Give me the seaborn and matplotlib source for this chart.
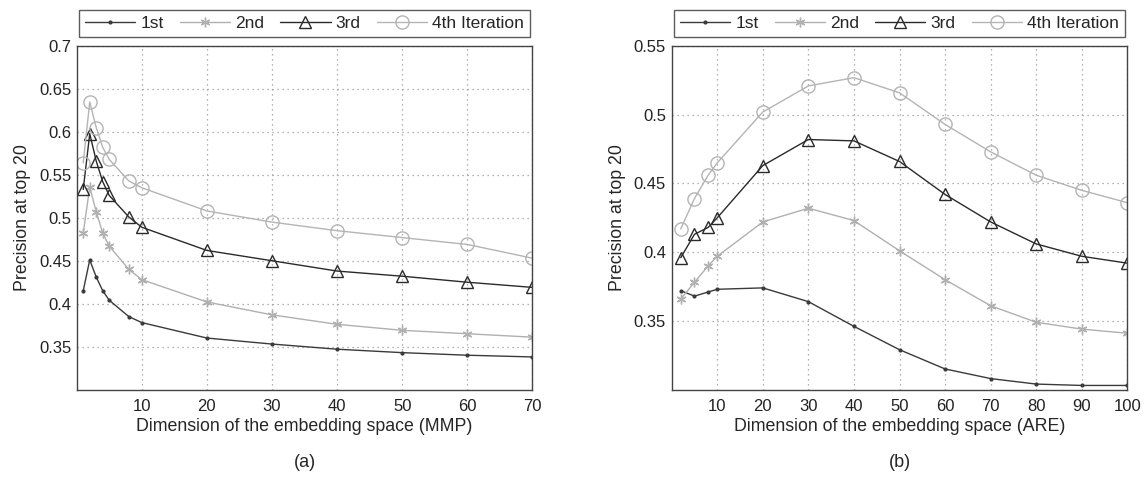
import numpy as np
import pandas as pd
import matplotlib
matplotlib.use("Agg")
import matplotlib.pyplot as plt
import seaborn as sns

# ---- data ----
dims_mmp = [1, 2, 3, 4, 5, 8, 10, 20, 30, 40, 50, 60, 70]
mmp_1st = [0.415, 0.451, 0.431, 0.415, 0.404, 0.385, 0.378, 0.360, 0.353, 0.347, 0.343, 0.340, 0.338]
mmp_2nd = [0.482, 0.536, 0.507, 0.482, 0.467, 0.440, 0.428, 0.402, 0.387, 0.376, 0.369, 0.365, 0.361]
mmp_3rd = [0.533, 0.598, 0.566, 0.542, 0.526, 0.501, 0.489, 0.462, 0.450, 0.438, 0.432, 0.425, 0.419]
mmp_4th = [0.564, 0.635, 0.605, 0.582, 0.568, 0.543, 0.535, 0.508, 0.495, 0.485, 0.477, 0.469, 0.453]

dims_are = [2, 5, 8, 10, 20, 30, 40, 50, 60, 70, 80, 90, 100]
are_1st = [0.372, 0.368, 0.371, 0.373, 0.374, 0.364, 0.346, 0.329, 0.315, 0.308, 0.304, 0.303, 0.303]
are_2nd = [0.366, 0.378, 0.390, 0.397, 0.422, 0.432, 0.423, 0.401, 0.380, 0.361, 0.349, 0.344, 0.341]
are_3rd = [0.396, 0.413, 0.418, 0.425, 0.463, 0.482, 0.481, 0.466, 0.442, 0.422, 0.406, 0.397, 0.392]
are_4th = [0.417, 0.439, 0.456, 0.465, 0.502, 0.521, 0.527, 0.516, 0.493, 0.473, 0.456, 0.445, 0.436]

series_names = ["1st", "2nd", "3rd", "4th Iteration"]
styles = [
    dict(color="#3a3a3a", marker=".", markersize=4, mfc="#3a3a3a", mec="#3a3a3a"),
    dict(color="#b0b0b0", marker=(6, 2, 0), markersize=7, mfc="#b0b0b0", mec="#b0b0b0"),
    dict(color="#2a2a2a", marker="^", markersize=8.5, mfc="none", mec="#2a2a2a"),
    dict(color="#b4b4b4", marker="o", markersize=9.5, mfc="none", mec="#b4b4b4"),
]

sns.set_style("white")
plt.rcParams["font.family"] = ["Liberation Sans", "DejaVu Sans"]

fig = plt.figure(figsize=(11.45, 4.78), dpi=100)
ax1 = fig.add_axes([0.067, 0.185, 0.398, 0.7186])
ax2 = fig.add_axes([0.5866, 0.185, 0.398, 0.7186])


def draw_panel(ax, dims, series, xlim, ylim, xticks, yticks, xlabel, tag):
    for name, vals, st in zip(series_names, series, styles):
        df = pd.DataFrame({"dim": dims, "prec": vals})
        sns.lineplot(data=df, x="dim", y="prec", ax=ax, label=name,
                     color=st["color"], marker=st["marker"], markersize=st["markersize"],
                     markerfacecolor=st["mfc"], markeredgecolor=st["mec"],
                     markeredgewidth=1.0, linewidth=1.0)
    ax.set_xlim(*xlim)
    ax.set_ylim(*ylim)
    ax.set_xticks(xticks)
    ax.set_yticks(yticks)
    ax.set_yticklabels([f"{v:g}" for v in yticks])
    ax.tick_params(direction="in", length=4, labelsize=12, colors="#222222", width=0.8)
    ax.tick_params(axis="x", pad=7)
    ax.tick_params(axis="y", pad=4)
    ax.grid(True, linestyle=(0, (1, 3)), color="#9a9a9a", linewidth=0.9)
    for sp in ax.spines.values():
        sp.set_color("#444444")
        sp.set_linewidth(1.0)
    ax.set_xlabel(xlabel, fontsize=12.8, labelpad=3)
    ax.set_ylabel("Precision at top 20", fontsize=12.8, labelpad=6)
    leg = ax.legend(loc="lower left", bbox_to_anchor=(0.005, 1.025, 0.99, 0.08), mode="expand",
                    ncol=4, frameon=True, fancybox=False, fontsize=12.5, handlelength=2.9,
                    borderaxespad=0, borderpad=0.35, columnspacing=0.6, handletextpad=0.3)
    leg.get_frame().set_edgecolor("#333333")
    leg.get_frame().set_linewidth(1.0)
    ax.text(0.5, -0.211, tag, transform=ax.transAxes, ha="center", va="center", fontsize=13)


draw_panel(ax1, dims_mmp, [mmp_1st, mmp_2nd, mmp_3rd, mmp_4th], (0, 70), (0.3, 0.7),
           [10, 20, 30, 40, 50, 60, 70], [0.35, 0.4, 0.45, 0.5, 0.55, 0.6, 0.65, 0.7],
           "Dimension of the embedding space (MMP)", "(a)")
draw_panel(ax2, dims_are, [are_1st, are_2nd, are_3rd, are_4th], (0, 100), (0.3, 0.55),
           [10, 20, 30, 40, 50, 60, 70, 80, 90, 100], [0.35, 0.4, 0.45, 0.5, 0.55],
           "Dimension of the embedding space (ARE)", "(b)")

fig.savefig("out.png", dpi=100)
